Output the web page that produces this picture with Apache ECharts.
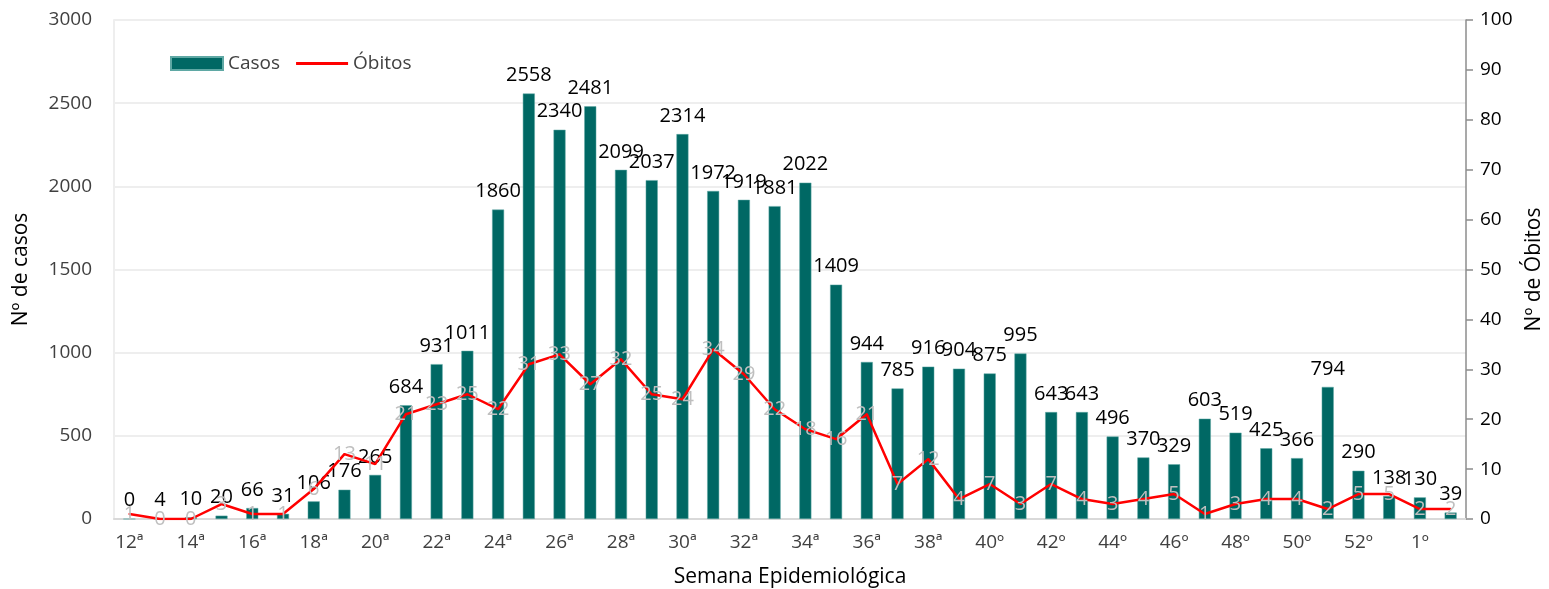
<!DOCTYPE html>
<html>
<head>
<meta charset="utf-8">
<script src="https://cdn.jsdelivr.net/npm/echarts@6/dist/echarts.min.js"></script>
<style>
  html, body { margin: 0; padding: 0; background: #fff; }
  #chart { width: 1549px; height: 589px; }
</style>
</head>
<body>
<div id="chart"></div>
<script>
// semanas epidemiologicas
const semanas = ['12ª', '13ª', '14ª', '15ª', '16ª', '17ª', '18ª', '19ª', '20ª', '21ª', '22ª',
  '23ª', '24ª', '25ª', '26ª', '27ª', '28ª', '29ª', '30ª', '31ª', '32ª', '33ª', '34ª', '35ª',
  '36ª', '37ª', '38ª', '39ª', '40º', '41º', '42º', '43º', '44º', '45º', '46º', '47º', '48º',
  '49º', '50º', '51º', '52º', '53º', '1º', '2º']
const casos = [0, 4, 10, 20, 66, 31, 106, 176, 265, 684, 931, 1011, 1860, 2558, 2340, 2481,
  2099, 2037, 2314, 1972, 1919, 1881, 2022, 1409, 944, 785, 916, 904, 875, 995, 643, 643,
  496, 370, 329, 603, 519, 425, 366, 794, 290, 138, 130, 39]
const obitos = [1, 0, 0, 3, 1, 1, 6, 13, 11, 21, 23, 25, 22, 31, 33, 27, 32, 25, 24, 34, 29,
  22, 18, 16, 21, 7, 12, 4, 7, 3, 7, 4, 3, 4, 5, 1, 3, 4, 4, 2, 5, 5, 2, 2]

const FONT = 'Open Sans'
const chart = echarts.init(document.getElementById('chart'))
chart.setOption({
  animation: false,
  textStyle: { fontFamily: FONT },
  grid: { left: 114, right: 83, top: 20, bottom: 70, outerBoundsMode: 'none' },
  legend: {
    left: 165,
    top: 49,
    itemGap: 16,
    textStyle: { fontSize: 19, color: '#404040', fontFamily: FONT },
    data: [
      { name: 'Casos', icon: 'rect' },
      { name: 'Óbitos', icon: 'path://M0,0 L52,0 L52,3 L0,3 Z' }
    ],
    itemWidth: 52,
    itemHeight: 13
  },
  xAxis: {
    type: 'category',
    data: semanas,
    name: 'Semana Epidemiológica',
    nameLocation: 'middle',
    nameGap: 48,
    nameTextStyle: { fontSize: 21, color: '#000' },
    axisLine: { lineStyle: { color: '#d9d9d9', width: 2 } },
    axisTick: { show: false },
    axisLabel: { interval: 1, fontSize: 19, color: '#404040', margin: 14 }
  },
  yAxis: [
    {
      type: 'value',
      min: 0,
      max: 3000,
      interval: 500,
      name: 'Nº de casos',
      nameLocation: 'middle',
      nameGap: 82,
      nameTextStyle: { fontSize: 21, color: '#000' },
      axisLine: { show: true, lineStyle: { color: '#eeeeee', width: 2 } },
      axisTick: { show: false },
      axisLabel: { fontSize: 19, color: '#404040', margin: 22, formatter: v => String(v) },
      splitLine: { lineStyle: { color: '#eeeeee', width: 2 } }
    },
    {
      type: 'value',
      min: 0,
      max: 100,
      interval: 10,
      name: 'Nº de Óbitos',
      nameLocation: 'middle',
      nameGap: 57,
      nameTextStyle: { fontSize: 21, color: '#000' },
      axisLine: { show: true, lineStyle: { color: '#8c8c8c', width: 1.5 } },
      axisTick: { show: true, length: 7, lineStyle: { color: '#8c8c8c', width: 1.5 } },
      axisLabel: { fontSize: 19, color: '#000', margin: 14 },
      splitLine: { show: false }
    }
  ],
  series: [
    {
      name: 'Casos',
      type: 'bar',
      data: casos,
      barWidth: 12,
      itemStyle: { color: '#006864', borderColor: '#5fa8a4', borderWidth: 0.5 },
      label: { show: true, position: 'top', fontSize: 20, color: '#000', distance: 8 },
      labelLayout: { hideOverlap: false },
      z: 2
    },
    {
      name: 'Óbitos',
      type: 'line',
      yAxisIndex: 1,
      data: obitos,
      symbol: 'circle',
      symbolSize: 2,
      showAllSymbol: true,
      lineStyle: { color: '#ff0000', width: 2.5 },
      itemStyle: { color: '#ff0000' },
      label: {
        show: true,
        position: 'inside',
        fontSize: 20,
        color: '#bfbfbf'
      },
      z: 3
    }
  ]
})
</script>
</body>
</html>
